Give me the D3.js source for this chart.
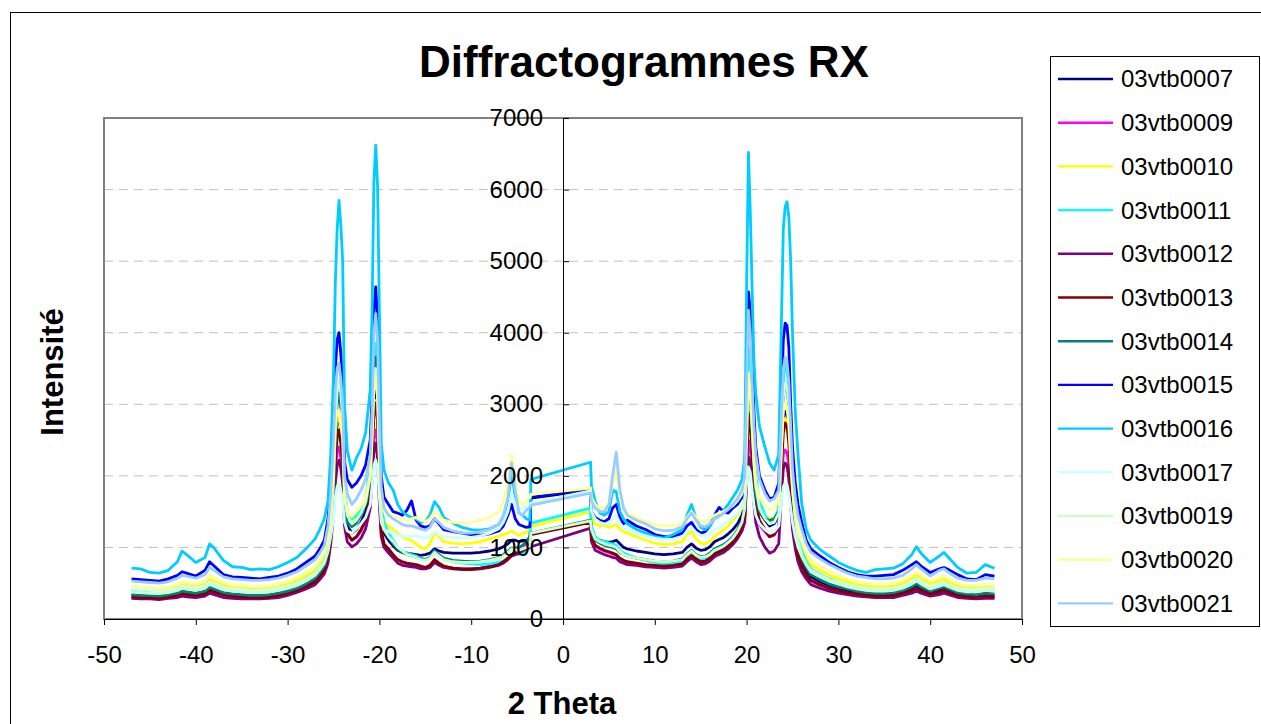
<!DOCTYPE html>
<html>
<head>
<meta charset="utf-8">
<script src="https://cdn.jsdelivr.net/npm/d3@7"></script>
<style>
  body { margin: 0; background: #fff; }
  svg { display: block; font-family: "Liberation Sans", Arial, sans-serif; }
</style>
</head>
<body>
<div id="chart"></div>
<script>
// 2 theta positions shared by every scan (left wing, left peaks, mid left, centre, mid right, right peaks, right wing)
const THETA = [
  -47, -46, -45, -44, -43, -42, -41.5, -41, -40, -39, -38.5, -38, -37, -36, -35, -34, -33, -32, -31, -30, -29, -28, -27,
  -26.5, -26, -25.6, -25.3, -25, -24.8, -24.6, -24.4, -24.2, -24, -23.8, -23.5, -23, -22.5, -22, -21.5, -21, -20.8, -20.6, -20.4, -20.2, -20, -19.8, -19.5,
  -19, -18.5, -18, -17.5, -17, -16.5, -16, -15.5, -15, -14.5, -14, -13.5, -13, -12, -11, -10, -9, -8, -7, -6.5, -6, -5.6, -5.2, -4.8, -4.4, -4, -3.6,
  -3.5, 3.0,
  3.1, 3.5, 4, 4.5, 5, 5.4, 5.8, 6.2, 6.6, 7, 8, 9, 10, 11, 12, 13, 13.5, 14, 14.5, 15, 15.5, 16, 16.5, 17, 17.5, 18, 18.5, 19, 19.5,
  19.8, 20, 20.2, 20.4, 20.6, 20.8, 21, 21.4, 22, 22.5, 23, 23.5, 23.8, 24, 24.2, 24.4, 24.6, 24.8, 25, 25.3, 25.6, 26, 26.5,
  27, 28, 29, 30, 31, 32, 33, 34, 35, 36, 37, 38, 38.5, 39, 40, 41, 41.5, 42, 43, 44, 45, 46, 47
]

const S0007 = [
  330,320,320,310,330,350,380,370,350,380,430,410,360,340,330,320,320,330,350,380,420,480,550,
  630,720,900,1250,1750,2400,2750,2800,2650,2350,1550,1300,1200,1250,1350,1500,1850,2450,3050,3200,2950,2000,1400,1200,
  1100,1020,960,930,920,910,900,890,900,920,980,950,930,920,920,920,930,950,980,1010,1050,1100,1100,1080,1090,1100,1120,
  1690,1800,
  1250,1120,1100,1080,1070,1080,1100,1050,1000,980,950,930,910,900,910,930,1000,1050,990,960,970,1010,1080,1110,1140,1190,1250,1330,1450,
  1600,2400,3100,2950,2500,2050,1750,1500,1380,1300,1330,1450,2250,2800,2900,2850,2600,2100,1650,1250,980,800,680,
  590,520,470,430,400,370,350,340,340,350,380,430,470,430,370,410,430,400,350,330,320,340,330
]
const S0009 = [
  300,300,290,290,300,320,340,330,320,340,380,360,320,310,300,300,300,300,320,350,390,440,500,
  580,660,820,1100,1550,2050,2350,2403,2250,2000,1400,1180,1100,1140,1230,1360,1650,2100,2550,2640,2450,1700,1200,1020,
  950,880,820,790,770,760,750,730,720,740,820,770,730,710,700,700,710,730,760,800,850,900,930,960,990,1050,1150,
  1190,1360,
  1140,1020,980,950,930,910,890,840,810,790,770,750,740,730,740,760,830,880,830,790,800,840,900,930,960,1010,1070,1150,1280,
  1420,2000,2500,2400,2100,1750,1500,1320,1220,1150,1170,1280,1950,2300,2361,2330,2150,1750,1400,1100,880,730,610,
  530,470,420,390,360,340,320,310,310,320,350,390,420,390,340,370,390,360,320,300,300,310,300
]
const S0010 = [
  430,420,410,400,420,450,480,470,450,490,560,530,470,440,430,420,420,430,450,490,540,600,680,
  760,850,1050,1400,2000,2600,2800,2822,2650,2400,1650,1450,1380,1430,1500,1620,1900,2300,2900,3050,2800,2000,1500,1350,
  1300,1250,1200,1150,1120,1100,1050,1000,980,1050,1200,1150,1080,1060,1050,1060,1080,1120,1160,1180,1200,1230,1200,1170,1190,1220,1250,
  1290,1500,
  1420,1330,1300,1310,1280,1300,1320,1250,1220,1200,1150,1100,1060,1040,1050,1080,1180,1220,1120,1060,1050,1080,1150,1200,1250,1300,1380,1450,1550,
  1700,2500,3000,2850,2400,2000,1750,1550,1450,1400,1420,1500,2200,2700,2800,2750,2500,2000,1650,1350,1150,1000,850,
  760,680,610,560,520,480,460,450,450,460,500,570,620,570,490,540,560,520,460,430,430,450,440
]
const S0011 = [
  400,390,380,370,390,420,450,440,420,450,520,490,430,410,400,390,390,400,420,450,500,560,640,
  720,810,1000,1350,1900,2700,3100,3300,3100,2800,1800,1500,1400,1450,1550,1700,2100,2700,3600,3850,3500,2400,1600,1350,
  1200,1100,1000,950,920,900,880,850,830,860,950,900,840,800,780,770,760,770,790,810,850,880,900,900,920,950,1000,
  1340,1550,
  1300,1150,1100,1080,1060,1050,1030,960,920,900,850,820,790,770,780,800,880,950,880,840,850,880,950,980,1000,1050,1120,1200,1350,
  1550,2600,3800,3600,3000,2400,2000,1650,1450,1350,1380,1550,2600,3300,3577,3500,3200,2500,1900,1450,1150,950,800,
  700,620,560,510,470,440,420,410,410,420,450,510,560,510,440,490,510,470,420,400,400,420,410
]
const S0012 = [
  290,280,280,270,290,300,320,310,300,320,360,340,300,290,280,280,280,290,300,330,370,420,480,
  550,630,780,1050,1450,1900,2150,2220,2100,1900,1300,1080,1010,1050,1130,1260,1550,1950,2350,2460,2250,1600,1150,1000,
  920,850,780,750,740,730,720,700,700,720,790,750,720,700,690,690,700,720,750,780,830,880,900,920,950,980,1000,
  1010,1270,
  1080,960,930,900,880,860,850,800,780,760,750,730,720,710,720,740,800,850,800,760,770,810,870,900,930,980,1040,1120,1230,
  1350,1900,2264,2200,1900,1600,1350,1150,1000,920,950,1050,1750,2100,2180,2150,1950,1600,1250,980,800,660,560,
  480,430,390,360,340,320,310,300,300,300,330,360,390,360,320,340,360,340,300,290,280,290,290
]
const S0013 = [
  310,300,300,290,310,330,350,340,330,350,400,380,340,320,310,300,300,310,330,360,400,450,520,
  600,690,850,1150,1600,2200,2550,2640,2450,2200,1450,1200,1104,1150,1250,1400,1700,2250,2850,3020,2750,1850,1250,1050,
  980,900,830,800,780,770,760,740,720,750,830,780,740,710,700,700,710,730,760,800,850,900,920,940,960,1000,1050,
  1180,1350,
  1150,1030,990,960,940,920,900,850,820,800,780,760,750,740,750,770,840,890,840,800,810,850,910,940,970,1020,1080,1160,1300,
  1450,2100,2878,2700,2300,1900,1600,1380,1250,1150,1180,1300,2100,2600,2740,2700,2450,1950,1500,1150,900,740,620,
  540,480,430,400,370,350,330,320,320,330,360,400,430,400,350,380,400,370,330,310,300,320,310
]
const S0014 = [
  340,330,330,320,340,360,390,380,360,390,440,420,370,350,340,330,330,340,360,390,430,490,570,
  650,740,920,1250,1800,2500,3000,3158,2950,2650,1650,1350,1290,1340,1450,1600,1950,2600,3400,3660,3300,2250,1500,1250,
  1150,1050,980,930,900,880,860,840,830,860,950,900,850,820,810,800,810,830,860,900,950,990,990,1000,1030,1080,1150,
  1200,1380,
  1220,1100,1060,1030,1010,1000,980,930,900,880,850,830,810,800,810,840,910,960,900,870,880,920,980,1010,1040,1090,1150,1240,1380,
  1550,2400,3300,3100,2600,2100,1750,1500,1400,1380,1400,1500,2400,3100,3297,3250,2950,2350,1800,1350,1050,850,720,
  620,550,490,450,420,390,370,360,360,370,400,450,490,450,390,430,450,420,370,350,340,360,350
]
const S0015 = [
  560,550,540,530,560,610,660,640,600,680,800,740,620,590,580,570,560,580,600,640,700,790,880,
  980,1100,1400,1900,2700,3500,3900,4000,3700,3300,2200,1950,1840,1900,2000,2150,2500,3100,4300,4640,4200,3000,2000,1700,
  1600,1500,1480,1450,1520,1650,1380,1300,1280,1300,1400,1330,1250,1220,1200,1180,1170,1190,1230,1300,1450,1600,1400,1320,1300,1280,1290,
  1700,1820,
  1500,1420,1380,1360,1400,1550,1600,1420,1330,1380,1300,1250,1180,1150,1150,1200,1300,1350,1250,1200,1220,1300,1450,1560,1500,1480,1550,1600,1700,
  1900,3500,4570,4300,3700,2900,2400,2000,1800,1680,1700,1900,3100,3900,4135,4100,3800,3000,2400,1900,1600,1350,1100,
  980,880,790,720,660,620,600,600,610,620,680,760,800,740,650,700,720,690,620,560,550,620,600
]
const S0016 = [
  710,700,650,640,680,800,950,900,790,860,1050,990,820,730,720,690,700,690,730,790,860,980,1120,
  1250,1400,1650,2300,3400,4700,5450,5850,5500,5000,3000,2350,2080,2250,2380,2600,3200,4300,6100,6620,6050,4300,2450,2080,
  1900,1800,1600,1500,1450,1420,1400,1350,1360,1450,1640,1560,1420,1340,1280,1250,1240,1260,1320,1420,1650,2050,1700,1480,1450,1400,1380,
  1950,2190,
  1850,1650,1480,1450,1500,1800,1780,1500,1400,1330,1250,1200,1150,1130,1180,1250,1450,1600,1400,1280,1250,1300,1400,1450,1520,1600,1700,1800,1950,
  2250,4650,6520,5700,4600,3600,3150,2690,2400,2180,2080,2300,4200,5450,5760,5830,5620,5000,4000,2900,2300,1620,1250,
  1100,970,880,790,730,680,650,690,700,710,770,900,1010,920,790,880,930,860,720,640,650,760,710
]
const S0017 = [
  420,410,400,390,400,430,460,450,430,460,520,500,440,420,410,400,400,410,430,460,500,560,640,
  720,800,950,1150,1400,1700,1850,1900,1800,1650,1350,1230,1200,1260,1330,1420,1600,1850,2150,2220,2100,1700,1350,1250,
  1220,1200,1180,1160,1150,1150,1160,1140,1130,1150,1220,1180,1150,1140,1130,1140,1160,1200,1260,1350,1500,1750,1600,1500,1550,1580,1600,
  1620,1790,
  1500,1400,1350,1330,1330,1400,1450,1330,1280,1250,1200,1160,1130,1110,1120,1150,1220,1280,1210,1170,1160,1190,1250,1280,1320,1360,1420,1480,1550,
  1650,1900,2124,2050,1800,1600,1450,1330,1250,1200,1220,1300,1650,1850,1900,1880,1750,1550,1350,1150,1000,880,760,
  680,610,550,510,470,450,430,420,420,430,460,520,560,520,450,490,510,470,430,410,410,430,420
]
const S0019 = [
  380,370,360,360,370,400,430,420,400,430,490,460,410,390,380,370,370,380,400,430,470,530,610,
  690,780,960,1300,1900,2700,3200,3340,3150,2800,1750,1450,1330,1380,1480,1630,2000,2600,3350,3500,3200,2200,1500,1250,
  1150,1080,1000,950,900,880,860,830,820,850,930,880,830,800,790,790,800,820,850,880,930,980,970,960,980,1000,1020,
  1200,1370,
  1250,1120,1080,1050,1030,1020,1000,940,900,880,850,830,810,800,810,830,900,950,890,860,870,900,960,990,1020,1070,1130,1220,1350,
  1550,2500,3350,3200,2700,2200,1850,1550,1400,1330,1350,1480,2400,3100,3300,3250,3000,2400,1850,1400,1100,900,760,
  660,590,530,490,450,420,400,390,390,400,430,490,530,490,420,460,480,450,400,380,380,400,390
]
const S0020 = [
  460,450,440,430,450,490,520,510,490,530,620,580,510,480,470,460,460,470,490,530,580,650,740,
  820,920,1150,1500,2100,2700,2900,2920,2750,2500,1700,1500,1430,1500,1580,1700,2000,2500,3200,3380,3100,2200,1650,1500,
  1480,1450,1420,1400,1380,1400,1420,1380,1360,1400,1500,1450,1380,1350,1340,1350,1380,1420,1500,1650,1900,2290,1900,1660,1600,1650,1700,
  1740,1830,
  1700,1600,1550,1560,1620,1900,2100,1700,1550,1480,1420,1360,1320,1300,1300,1330,1420,1500,1420,1370,1360,1400,1450,1480,1500,1540,1580,1650,1750,
  1900,2800,3437,3200,2700,2200,1900,1700,1580,1523,1550,1650,2400,2900,3020,2950,2700,2200,1800,1450,1250,1080,920,
  830,740,670,610,560,520,500,490,490,500,540,610,660,610,530,580,600,560,500,470,470,490,480
]
const S0021 = [
  530,520,510,500,520,570,610,600,570,620,720,680,590,560,550,540,540,550,570,610,660,740,830,
  920,1030,1300,1750,2500,3200,3500,3577,3350,3000,2000,1750,1600,1680,1800,1950,2300,2900,4000,4270,3900,2700,1850,1550,
  1450,1400,1360,1320,1300,1300,1280,1260,1240,1280,1400,1350,1280,1230,1200,1200,1220,1250,1320,1450,1700,2180,1800,1480,1450,1520,1560,
  1590,1760,
  1650,1550,1500,1500,1600,2000,2330,1800,1550,1450,1380,1330,1260,1230,1240,1290,1400,1480,1380,1300,1290,1330,1400,1430,1480,1530,1600,1680,1800,
  2000,3300,4317,4000,3300,2700,2300,1950,1750,1650,1680,1800,2900,3500,3660,3600,3300,2700,2100,1700,1450,1250,1050,
  930,840,760,700,640,600,580,560,560,570,610,700,760,700,600,680,700,650,570,540,540,570,560
]

const SERIES_NAMES = ["03vtb0007", "03vtb0009", "03vtb0010", "03vtb0011", "03vtb0012", "03vtb0013", "03vtb0014",
  "03vtb0015", "03vtb0016", "03vtb0017", "03vtb0019", "03vtb0020", "03vtb0021"]
const SERIES_COLORS = ["#000080", "#ff00ff", "#ffff00", "#00ffff", "#800080", "#800000", "#008080",
  "#0000ff", "#00ccff", "#ccffff", "#ccffcc", "#ffff99", "#99ccff"]
const SERIES_VALUES = [S0007, S0009, S0010, S0011, S0012, S0013, S0014, S0015, S0016, S0017, S0019, S0020, S0021]

const X_TICKS = [-50, -40, -30, -20, -10, 0, 10, 20, 30, 40, 50]
const Y_TICKS = [0, 1000, 2000, 3000, 4000, 5000, 6000, 7000]

SERIES_VALUES.forEach((v, i) => {
  if (v.length !== THETA.length) throw new Error(SERIES_NAMES[i] + " has " + v.length + " values, expected " + THETA.length)
})

const width = 1261, height = 724
const plot = { left: 104, right: 1022, top: 118, bottom: 619 }
const FONT = '"Liberation Sans", Arial, sans-serif'

const svg = d3.select("#chart").append("svg")
  .attr("width", width)
  .attr("height", height)
  .attr("viewBox", `0 0 ${width} ${height}`)

// outer chart frame
svg.append("rect")
  .attr("x", 10.5).attr("y", 12.5)
  .attr("width", 1300).attr("height", 800)
  .attr("fill", "#fff").attr("stroke", "#000").attr("stroke-width", 1)

const x = d3.scaleLinear().domain([-50, 50]).range([plot.left, plot.right])
const y = d3.scaleLinear().domain([0, 7000]).range([plot.bottom, plot.top])

// gridlines
svg.append("g").attr("class", "grid")
  .selectAll("line")
  .data(Y_TICKS.filter(d => d > 0 && d < 7000))
  .join("line")
  .attr("x1", plot.left).attr("x2", plot.right)
  .attr("y1", d => y(d)).attr("y2", d => y(d))
  .attr("stroke", "#c0c0c0")
  .attr("stroke-dasharray", "9,6")

// plot area border
svg.append("rect")
  .attr("x", plot.left).attr("y", plot.top)
  .attr("width", plot.right - plot.left).attr("height", plot.bottom - plot.top)
  .attr("fill", "none").attr("stroke", "#808080").attr("stroke-width", 2)

// scans
const line = d3.line()
  .x((d, i) => x(THETA[i]))
  .y(d => y(d))

svg.append("g").attr("class", "scans")
  .selectAll("path")
  .data(SERIES_VALUES)
  .join("path")
  .attr("d", d => line(d))
  .attr("fill", "none")
  .attr("stroke", (d, i) => SERIES_COLORS[i])
  .attr("stroke-width", 2.8)
  .attr("stroke-linejoin", "round")

// x axis
const xAxis = svg.append("g")
  .attr("transform", `translate(0,${plot.bottom})`)
  .call(d3.axisBottom(x).tickValues(X_TICKS).tickFormat(d => String(d)).tickSize(6).tickPadding(21))
xAxis.select(".domain").attr("stroke", "#000")
xAxis.selectAll(".tick line").attr("stroke", "#000")
xAxis.selectAll("text")
  .attr("font-size", "24px")
  .attr("font-family", FONT)
  .attr("fill", "#000")

// y axis crossing at 2 theta = 0
const yAxis = svg.append("g")
  .attr("transform", `translate(${x(0)},0)`)
  .call(d3.axisLeft(y).tickValues(Y_TICKS).tickFormat(d => String(d)).tickSizeInner(-6).tickSizeOuter(0).tickPadding(20))
yAxis.select(".domain").attr("stroke", "#000")
yAxis.selectAll(".tick line").attr("stroke", "#000")
yAxis.selectAll("text")
  .attr("font-size", "24px")
  .attr("font-family", FONT)
  .attr("fill", "#000")

// titles
svg.append("text")
  .attr("x", 644).attr("y", 77)
  .attr("text-anchor", "middle")
  .attr("font-size", "44px").attr("font-weight", "bold")
  .text("Diffractogrammes RX")

svg.append("text")
  .attr("transform", "translate(52,372) rotate(-90)")
  .attr("text-anchor", "middle").attr("dy", "0.35em")
  .attr("font-size", "31px").attr("font-weight", "bold")
  .text("Intensité")

svg.append("text")
  .attr("x", 562).attr("y", 703)
  .attr("text-anchor", "middle").attr("dy", "0.35em")
  .attr("font-size", "31px").attr("font-weight", "bold")
  .text("2 Theta")

// legend
const legend = svg.append("g").attr("class", "legend")
legend.append("rect")
  .attr("x", 1050.5).attr("y", 56.5)
  .attr("width", 209).attr("height", 570)
  .attr("fill", "#fff").attr("stroke", "#000")

const item = legend.selectAll("g.item")
  .data(SERIES_NAMES)
  .join("g")
  .attr("class", "item")
  .attr("transform", (d, i) => `translate(0,${79 + i * 43.7})`)

item.append("line")
  .attr("x1", 1058).attr("x2", 1113)
  .attr("stroke", (d, i) => SERIES_COLORS[i])
  .attr("stroke-width", 2.4)

item.append("text")
  .attr("x", 1121).attr("dy", "0.35em")
  .attr("font-size", "24px")
  .text(d => d)
</script>
</body>
</html>
